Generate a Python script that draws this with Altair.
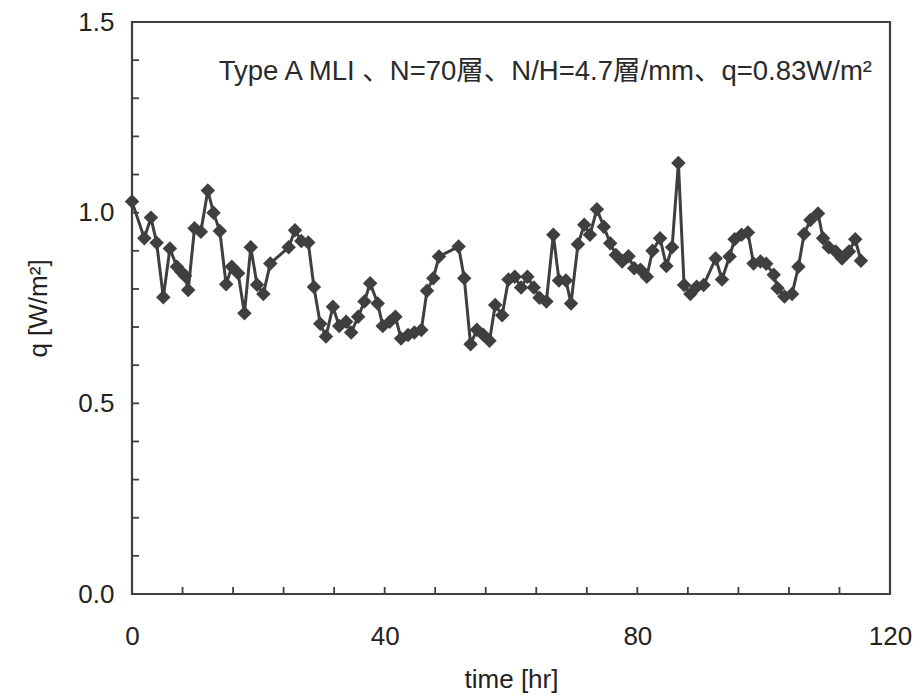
import altair as alt
import pandas as pd

# time [hr]
times = [0, 1.95, 3.0, 3.9, 4.96, 6.0, 7.1, 7.8, 8.4, 8.9, 9.9, 10.9, 12.0, 12.9, 13.9,
         14.9, 15.8, 16.8, 17.8, 18.8, 19.8, 20.8, 21.9, 24.8, 25.8, 26.8, 27.9, 28.8,
         29.8, 30.7, 31.8, 32.8, 33.9, 34.7, 35.8, 36.8, 37.7, 38.9, 39.7, 40.8, 41.7,
         42.6, 43.7, 44.7, 45.8, 46.7, 47.7, 48.6, 51.7, 52.6, 53.6, 54.6, 55.6, 56.6,
         57.5, 58.6, 59.6, 60.6, 61.6, 62.6, 63.6, 64.5, 65.6, 66.7, 67.6, 68.7, 69.5,
         70.6, 71.6, 72.5, 73.6, 74.7, 75.7, 76.6, 77.6, 78.6, 79.5, 80.5, 81.5, 82.4,
         83.6, 84.6, 85.5, 86.5, 87.4, 88.4, 89.4, 90.5, 92.4, 93.4, 94.6, 95.4, 96.5,
         97.5, 98.4, 99.5, 100.4, 101.6, 102.2, 103.3, 104.5, 105.5, 106.4, 107.4,
         108.6, 109.4, 110.3, 111.4, 112.4, 113.5, 114.5, 115.4]
# heat flux q [W/m2]
q_values = [1.029, 0.933, 0.987, 0.921, 0.778, 0.906, 0.858, 0.845, 0.834, 0.797, 0.959,
            0.950, 1.058, 1.000, 0.952, 0.812, 0.858, 0.841, 0.736, 0.909, 0.811, 0.787,
            0.867, 0.909, 0.954, 0.926, 0.922, 0.805, 0.709, 0.675, 0.753, 0.703, 0.714,
            0.686, 0.727, 0.767, 0.815, 0.762, 0.703, 0.714, 0.727, 0.670, 0.679, 0.686,
            0.692, 0.795, 0.828, 0.885, 0.911, 0.828, 0.655, 0.693, 0.680, 0.664, 0.758,
            0.731, 0.825, 0.832, 0.804, 0.832, 0.804, 0.777, 0.767, 0.942, 0.822, 0.822,
            0.762, 0.917, 0.968, 0.942, 1.009, 0.963, 0.920, 0.889, 0.872, 0.886, 0.854,
            0.850, 0.832, 0.900, 0.933, 0.860, 0.909, 1.130, 0.810, 0.787, 0.806, 0.810,
            0.880, 0.825, 0.885, 0.930, 0.942, 0.948, 0.867, 0.872, 0.866, 0.837, 0.802,
            0.780, 0.787, 0.858, 0.944, 0.981, 0.998, 0.933, 0.909, 0.898, 0.880, 0.898,
            0.930, 0.874]

x_label_values = [0, 40, 80, 120]
y_label_values = [0.0, 0.5, 1.0, 1.5]
x_tick_values = [8, 16, 24, 32, 40, 48, 56, 64, 72, 80, 88, 96, 104, 112]
y_tick_values = [0.1, 0.2, 0.3, 0.4, 0.5, 0.6, 0.7, 0.8, 0.9, 1.0, 1.1, 1.2, 1.3, 1.4]

annotation = "Type A MLI 、N=70層、N/H=4.7層/mm、q=0.83W/m²"

W, H = 758, 572
INK = "#3f3f3f"
FONT = "Liberation Sans, Noto Sans CJK JP"

df = pd.DataFrame({"t": times, "q": q_values})
xt = pd.DataFrame({"t": x_tick_values})
yt = pd.DataFrame({"q": y_tick_values})

xscale = alt.Scale(domain=[0, 120], nice=False, zero=False)
yscale = alt.Scale(domain=[0, 1.5], nice=False)

xaxis = alt.Axis(values=x_label_values, title="time [hr]", grid=False, domain=False,
                 ticks=False, labelPadding=29, titlePadding=17, format="d",
                 labelFlush=False)
yaxis = alt.Axis(values=y_label_values, title="q [W/m²]", grid=False, domain=False,
                 ticks=False, labelPadding=18, titlePadding=26, format=".1f")

line = alt.Chart(df).mark_line(color=INK, strokeWidth=3).encode(
    x=alt.X("t:Q", scale=xscale, axis=xaxis),
    y=alt.Y("q:Q", scale=yscale, axis=yaxis),
)
pts = alt.Chart(df).mark_point(shape="diamond", filled=True, color=INK, size=210,
                               opacity=1).encode(
    x=alt.X("t:Q", scale=xscale),
    y=alt.Y("q:Q", scale=yscale),
)
xticks = alt.Chart(xt).mark_rule(color=INK, strokeWidth=1.8).encode(
    x=alt.X("t:Q", scale=xscale),
    y=alt.value(H),
    y2=alt.value(H - 7),
)
yticks = alt.Chart(yt).mark_rule(color=INK, strokeWidth=1.8).encode(
    y=alt.Y("q:Q", scale=yscale),
    x=alt.value(0),
    x2=alt.value(7),
)
note = alt.Chart(pd.DataFrame({"s": [annotation]})).mark_text(
    align="right", baseline="middle", fontSize=27.5, font=FONT, color="#2a2a2a"
).encode(x=alt.value(740), y=alt.value(50), text="s:N")

chart = alt.layer(yticks, xticks, line, pts, note).properties(
    width=W, height=H,
    autosize=alt.AutoSizeParams(type="none"),
    padding={"left": 132, "top": 22, "right": 26, "bottom": 104},
).configure_view(
    stroke=INK, strokeWidth=2.2
).configure_axis(
    labelFont=FONT, titleFont=FONT, labelFontSize=26, titleFontSize=26,
    labelColor="#222", titleColor="#222", titleFontWeight="normal",
)

chart.save("out.html", embed_options={"renderer": "svg", "actions": False})
